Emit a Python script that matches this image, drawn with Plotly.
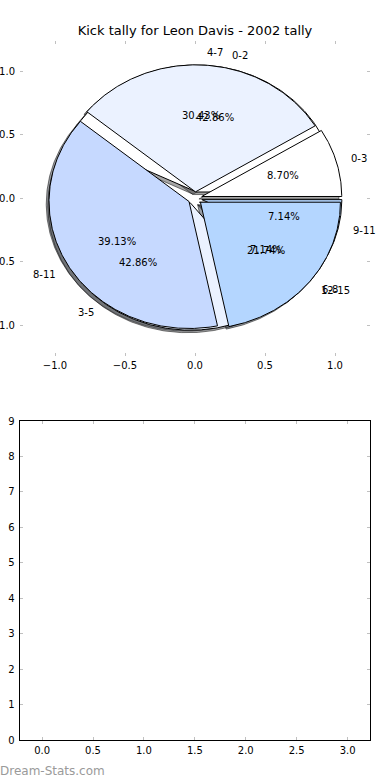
import numpy as np
import plotly.graph_objects as go

# ---------------- data ----------------
title_text = "Kick tally for Leon Davis - 2002 tally"
labels_a = ["0-3", "4-7", "8-11", "12-15"]
values_a = [2, 7, 9, 5]
labels_b = ["0-2", "3-5", "6-8", "9-11"]
values_b = [6, 6, 1, 1]
wedge_colors = ["#ffffff", "#ebf2ff", "#c6d9ff", "#b4d6ff"]
explode = 0.05
top_x_ticks = [-1.0, -0.5, 0.0, 0.5, 1.0]
top_y_ticks = [-1.0, -0.5, 0.0, 0.5, 1.0]
bottom_x_ticks = [0.0, 0.5, 1.0, 1.5, 2.0, 2.5, 3.0]
bottom_y_ticks = [0, 1, 2, 3, 4, 5, 6, 7, 8, 9]
watermark = "Dream-Stats.com"

W, H = 390, 780
FONT = "DejaVu Sans"
TICKC = "#c0c0c0"


def wedge_geometry(values):
    total = float(sum(values))
    out = []
    t1 = 0.0
    for v in values:
        frac = v / total
        t2 = t1 + 360.0 * frac
        mid = np.radians((t1 + t2) / 2.0)
        cx, cy = explode * np.cos(mid), explode * np.sin(mid)
        n = max(int(abs(t2 - t1) * 2), 6)
        th = np.radians(np.linspace(t1, t2, n))
        xs = np.concatenate([[cx], cx + np.cos(th), [cx]])
        ys = np.concatenate([[cy], cy + np.sin(th), [cy]])
        out.append(dict(xs=xs, ys=ys, mid=mid, cx=cx, cy=cy, pct=100.0 * frac))
        t1 = t2
    return out


def hex_rgb(h):
    h = h.lstrip("#")
    return tuple(int(h[i:i + 2], 16) for i in (0, 2, 4))


geo_a = wedge_geometry(values_a)
geo_b = wedge_geometry(values_b)

fig = go.Figure()

# shadows (both pies, beneath all wedges)
for geo in (geo_a, geo_b):
    for g, col in zip(geo, wedge_colors):
        r, gg, b = hex_rgb(col)
        fig.add_trace(go.Scatter(
            x=g["xs"] - 0.02, y=g["ys"] - 0.02, mode="lines", fill="toself",
            fillcolor="rgba(%d,%d,%d,0.5)" % (0.3 * r, 0.3 * gg, 0.3 * b),
            line=dict(color="rgba(0,0,0,0.5)", width=1),
            hoverinfo="skip", showlegend=False, xaxis="x", yaxis="y"))

# second pie, then first pie on top
for geo in (geo_b, geo_a):
    for g, col in zip(geo, wedge_colors):
        fig.add_trace(go.Scatter(
            x=g["xs"], y=g["ys"], mode="lines", fill="toself", fillcolor=col,
            line=dict(color="black", width=1),
            hoverinfo="skip", showlegend=False, xaxis="x", yaxis="y"))

# empty bottom axes
fig.add_trace(go.Scatter(x=[], y=[], xaxis="x2", yaxis="y2", showlegend=False))

annotations = []
for geo, labels in ((geo_a, labels_a), (geo_b, labels_b)):
    for g, lab in zip(geo, labels):
        lx = g["cx"] + 1.1 * np.cos(g["mid"])
        ly = g["cy"] + 1.1 * np.sin(g["mid"])
        annotations.append(dict(
            x=lx, y=ly, xref="x", yref="y", text=lab, showarrow=False,
            xanchor="left" if lx > 0 else "right", yanchor="middle",
            font=dict(family=FONT, size=10, color="black"), borderpad=0))
        px = g["cx"] + 0.6 * np.cos(g["mid"])
        py = g["cy"] + 0.6 * np.sin(g["mid"])
        annotations.append(dict(
            x=px, y=py, xref="x", yref="y", text="%.2f%%" % g["pct"], showarrow=False,
            xanchor="center", yanchor="middle",
            font=dict(family=FONT, size=10, color="black"), borderpad=0))

annotations.append(dict(
    x=-1 / W, y=1 - 771 / H, xref="paper", yref="paper", text=watermark, showarrow=False,
    xanchor="left", yanchor="middle", font=dict(family=FONT, size=12, color="#9a9a9a"),
    borderpad=0))

axis_common = dict(showgrid=False, zeroline=False, ticks="inside", ticklen=3, tickwidth=1,
                   tickcolor=TICKC, automargin=False,
                   tickfont=dict(family=FONT, size=10, color="black"))

fig.update_layout(
    width=W, height=H, margin=dict(l=0, r=0, t=0, b=0, autoexpand=False),
    paper_bgcolor="white", plot_bgcolor="white",
    title=dict(text=title_text, x=0.5, xanchor="center", y=1 - 30 / H, yanchor="middle",
               font=dict(family=FONT, size=13, color="black")),
    xaxis=dict(domain=[20 / W, 370 / W], range=[-1.25, 1.25], tickvals=top_x_ticks,
               tickformat=".1f", showline=False, mirror="ticks", anchor="y",
               ticklabelstandoff=2, **axis_common),
    yaxis=dict(domain=[1 - 355.7 / H, 1 - 40.7 / H], range=[-1.24, 1.24], tickvals=top_y_ticks,
               tickformat=".1f", showline=False, mirror="ticks", anchor="x",
               ticklabelstandoff=4, **axis_common),
    xaxis2=dict(domain=[19.7 / W, 370 / W], range=[-0.22, 3.22], tickvals=bottom_x_ticks,
                tickformat=".1f", showline=True, linecolor="black", linewidth=1, mirror="ticks",
                anchor="y2", ticklabelstandoff=1, **axis_common),
    yaxis2=dict(domain=[1 - 740.3 / H, 1 - 421 / H], range=[0, 9], tickvals=bottom_y_ticks,
                showline=True, linecolor="black", linewidth=1, mirror="ticks",
                anchor="x2", ticklabelstandoff=2, **axis_common),
    annotations=annotations,
    font=dict(family=FONT),
)

fig.write_html("out.html")
